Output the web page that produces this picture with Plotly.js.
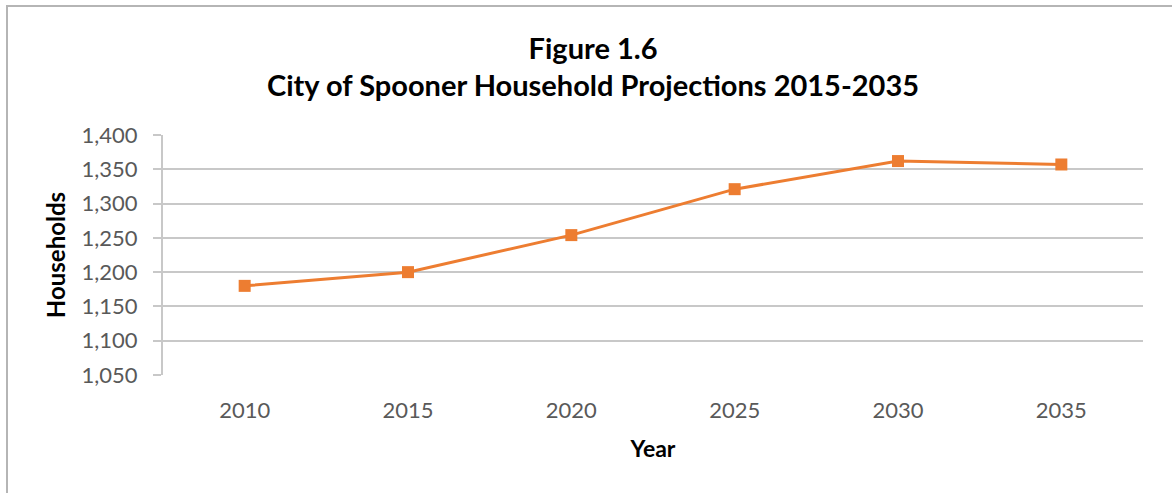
<!DOCTYPE html>
<html>
<head>
<meta charset="utf-8">
<script src="https://cdn.plot.ly/plotly-3.0.1.min.js"></script>
<style>
  html, body { margin: 0; padding: 0; background: #fff; }
  #wrap { position: relative; width: 1172px; height: 493px; }
  #chart { width: 1172px; height: 493px; }
  #frame { position: absolute; left: 6px; top: 5px; right: -10px; bottom: -10px;
           border-left: 2px solid #b5b5b5; border-top: 2px solid #b5b5b5; pointer-events: none; }
</style>
</head>
<body>
<div id="wrap">
  <div id="chart"></div>
  <div id="frame"></div>
</div>
<script>
const years = ["2010", "2015", "2020", "2025", "2030", "2035"];
const households = [1180, 1200, 1254, 1321, 1362, 1357];
const yTickVals = [1050, 1100, 1150, 1200, 1250, 1300, 1350, 1400];

const orange = "#ED7D31";
const font = "Lato, 'Open Sans', sans-serif";

const trace = {
  type: "scatter",
  mode: "lines+markers",
  x: years,
  y: households,
  line: { color: orange, width: 3 },
  marker: { symbol: "square", size: 12, color: orange },
  hoverinfo: "x+y",
  showlegend: false
};

const layout = {
  width: 1172,
  height: 493,
  margin: { l: 163, r: 29, t: 135, b: 118 },
  paper_bgcolor: "#ffffff",
  plot_bgcolor: "#ffffff",
  title: {
    text: "<b>Figure 1.6</b><br><b>City of Spooner Household Projections 2015-2035</b>",
    font: { family: font, size: 29, color: "#000000" },
    x: 0.506, xanchor: "center",
    y: 0.881, yanchor: "middle"
  },
  xaxis: {
    type: "category",
    range: [-0.5, 5.5],
    showgrid: false,
    showline: false,
    ticks: "outside",
    ticklen: 16,
    tickcolor: "rgba(0,0,0,0)",
    tickfont: { family: font, size: 22, color: "#595959" },
    title: { text: "<b>Year</b>", font: { family: font, size: 23, color: "#000000" }, standoff: 18 }
  },
  yaxis: {
    range: [1050, 1400],
    tickvals: yTickVals,
    tickformat: ",",
    showgrid: true,
    gridcolor: "#c8c8c8",
    gridwidth: 2,
    zeroline: false,
    showline: true,
    linecolor: "#c8c8c8",
    linewidth: 2,
    ticks: "outside",
    ticklen: 8,
    tickcolor: "#c8c8c8",
    tickwidth: 2,
    ticklabelstandoff: 11,
    tickfont: { family: font, size: 22, color: "#595959" },
    title: { text: "<b>Households</b>", font: { family: font, size: 24, color: "#000000" }, standoff: 9 }
  },
  font: { family: font }
};

Plotly.newPlot("chart", [trace], layout, { displayModeBar: false, staticPlot: true });
</script>
</body>
</html>
